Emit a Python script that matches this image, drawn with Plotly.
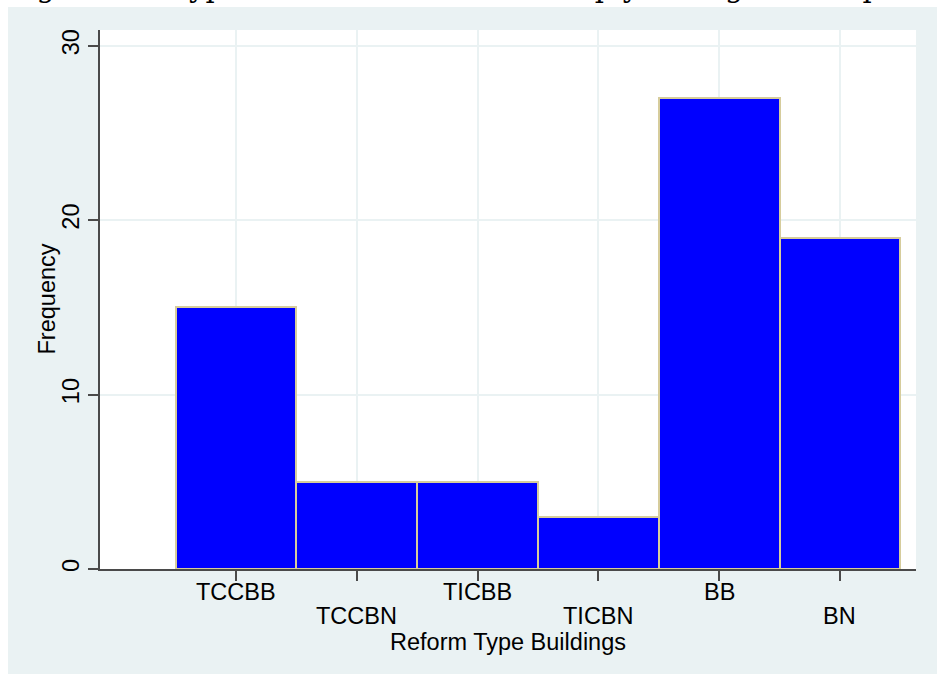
import plotly.graph_objects as go

# Frequency of each building-reform type
categories = ["TCCBB", "TCCBN", "TICBB", "TICBN", "BB", "BN"]
positions = [1, 2, 3, 4, 5, 6]
frequency = [15, 5, 5, 3, 27, 19]
y_ticks = [0, 10, 20, 30]

W, H = 937, 674
L, R, T, B = 100, 21, 30, 105
plot_w = W - L - R
plot_h = H - T - B

bg_gray = "#EAF2F3"
axis_col = "#4a4a4a"
font_family = "Liberation Sans, Arial, sans-serif"
fsize = 23.5

fig = go.Figure()
fig.add_trace(go.Bar(
    x=positions,
    y=frequency,
    width=1.0,
    marker=dict(color="#0000FF", line=dict(color="#D6CC9C", width=2)),
    hoverinfo="x+y",
))

fig.update_layout(
    width=W, height=H,
    margin=dict(l=L, r=R, t=T, b=B, pad=0),
    paper_bgcolor="white",
    plot_bgcolor="rgba(0,0,0,0)",
    showlegend=False,
    bargap=0,
    font=dict(family=font_family, size=fsize, color="black"),
    xaxis=dict(
        range=[-0.127, 6.63],
        tickmode="array", tickvals=positions, ticktext=[""] * len(positions),
        ticks="outside", ticklen=10, tickwidth=1.5, tickcolor=axis_col,
        showgrid=True, gridcolor=bg_gray, gridwidth=1.5,
        showline=True, linecolor=axis_col, linewidth=1.5,
        zeroline=False,
    ),
    yaxis=dict(
        range=[0, 30.9],
        tickmode="array", tickvals=y_ticks, ticktext=[str(v) for v in y_ticks],
        ticks="outside", ticklen=10, tickwidth=1.5, tickcolor=axis_col,
        showgrid=True, gridcolor=bg_gray, gridwidth=1.5,
        showline=True, linecolor=axis_col, linewidth=1.5,
        zeroline=False, tickangle=-90,
        tickfont=dict(size=fsize, family=font_family, color="black"),
    ),
)

# light gray graph region and white plot region behind everything
fig.add_shape(type="rect", xref="paper", yref="paper",
              x0=(8 - L) / plot_w, x1=(W - L) / plot_w,
              y0=-(B) / plot_h, y1=(H - B - 7) / plot_h,
              fillcolor=bg_gray, line=dict(width=0), layer="below")
fig.add_shape(type="rect", xref="paper", yref="paper",
              x0=0, x1=1, y0=0, y1=1,
              fillcolor="white", line=dict(width=0), layer="below")

# category labels, staggered over two rows
for i, c in enumerate(categories):
    shift = -23 if i % 2 == 0 else -47
    fig.add_annotation(x=positions[i], y=0, xref="x", yref="y",
                       text=c, showarrow=False, yanchor="middle",
                       yshift=shift, font=dict(size=fsize, family=font_family))

# axis titles
fig.add_annotation(x=0.5, y=0, xref="paper", yref="paper",
                   text="Reform Type Buildings", showarrow=False,
                   yanchor="middle", yshift=-73,
                   font=dict(size=fsize, family=font_family))
fig.add_annotation(x=0, y=0.5, xref="paper", yref="paper",
                   text="Frequency", showarrow=False, textangle=-90,
                   xanchor="center", xshift=-54,
                   font=dict(size=fsize, family=font_family))

# document caption running above the figure
fig.add_annotation(x=(5 - L) / plot_w, y=(H - B - 6) / plot_h,
                   xref="paper", yref="paper", xanchor="left", yanchor="bottom",
                   text="Figure 15: Types of Tax reforms that Imply Changes in Depreciation",
                   showarrow=False,
                   font=dict(size=29, family="DejaVu Serif, serif", color="black"))

fig.write_html("out.html")
